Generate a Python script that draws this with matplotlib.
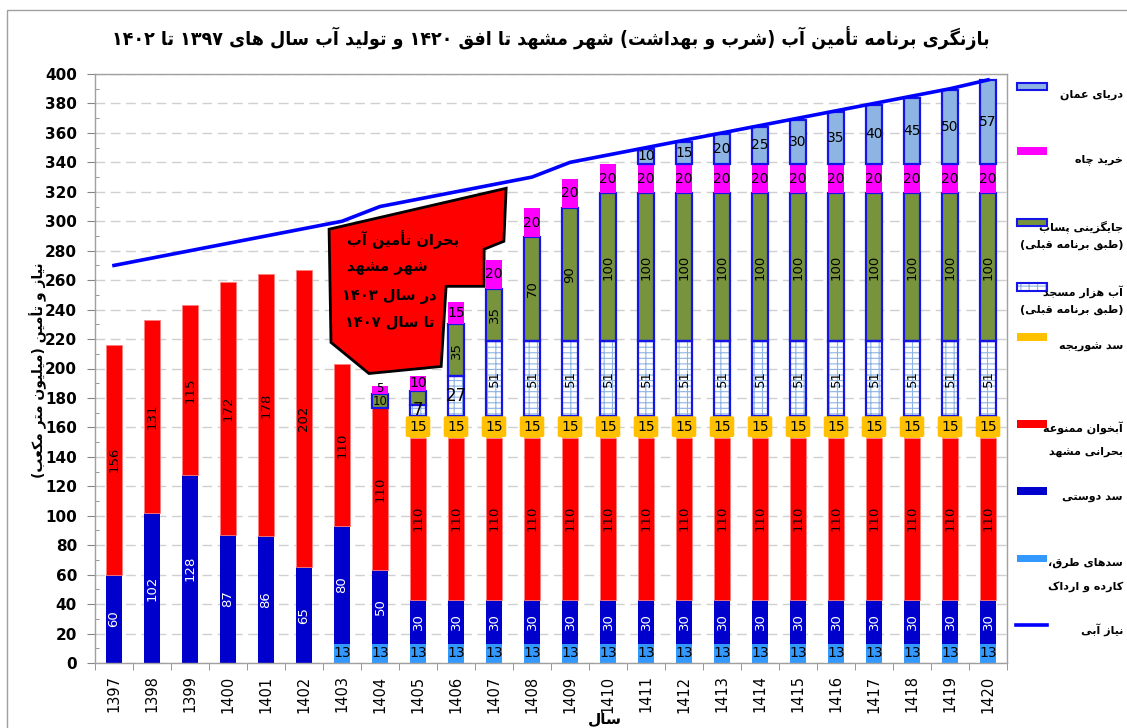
import matplotlib
matplotlib.use('Agg')
import matplotlib.pyplot as plt
from matplotlib.patches import Rectangle, Polygon
from matplotlib.lines import Line2D
import numpy as np

plt.rcParams['font.family'] = ['DejaVu Sans']
plt.rcParams['hatch.linewidth'] = 0.8

# ---------------- data ----------------
years = [str(y) for y in range(1397, 1421)]
torogh = [0] * 6 + [13] * 18
doosti = [60, 102, 128, 87, 86, 65, 80, 50] + [30] * 16
aabkhan = [156, 131, 115, 172, 178, 202] + [110] * 18
shoorijeh = [0] * 8 + [15] * 16
hezar = [0] * 8 + [7, 27] + [51] * 14
pasab = [0] * 7 + [10, 10, 35, 35, 70, 90] + [100] * 11
chah = [0] * 7 + [5, 10, 15, 20, 20, 20] + [20] * 11
oman = [0] * 14 + [10, 15, 20, 25, 30, 35, 40, 45, 50, 57]
demand = [270, 275, 280, 285, 290, 295, 300, 310, 315, 320, 325, 330,
          340, 345, 350, 355, 360, 365, 370, 375, 380, 385, 390, 396]

# annotation shape (data coords) and its text
crisis_shape = [(5.66, 294.6), (10.32, 322.4), (10.26, 286.4), (9.74, 281.0),
                (9.74, 255.8), (8.74, 255.8), (8.61, 201.4), (6.71, 196.6),
                (5.71, 217.7)]
crisis_lines = ['بحران تأمین آب', 'شهر مشهد', 'در سال ۱۴۰۳', 'تا سال ۱۴۰۷']

title_txt = 'بازنگری برنامه تأمین آب (شرب و بهداشت) شهر مشهد تا افق ۱۴۲۰ و تولید آب سال های ۱۳۹۷ تا ۱۴۰۲'
ylabel_txt = 'نیاز و تأمین (میلیون متر مکعب)'
xlabel_txt = 'سال'

# ---------------- simple Persian shaping ----------------
_F = {
    'ا': (0xFE8D, 0xFE8E, None, None), 'آ': (0xFE81, 0xFE82, None, None),
    'أ': (0xFE83, 0xFE84, None, None),
    'ب': (0xFE8F, 0xFE90, 0xFE91, 0xFE92), 'پ': (0xFB56, 0xFB57, 0xFB58, 0xFB59),
    'ت': (0xFE95, 0xFE96, 0xFE97, 0xFE98), 'ث': (0xFE99, 0xFE9A, 0xFE9B, 0xFE9C),
    'ج': (0xFE9D, 0xFE9E, 0xFE9F, 0xFEA0), 'چ': (0xFB7A, 0xFB7B, 0xFB7C, 0xFB7D),
    'ح': (0xFEA1, 0xFEA2, 0xFEA3, 0xFEA4), 'خ': (0xFEA5, 0xFEA6, 0xFEA7, 0xFEA8),
    'د': (0xFEA9, 0xFEAA, None, None), 'ذ': (0xFEAB, 0xFEAC, None, None),
    'ر': (0xFEAD, 0xFEAE, None, None), 'ز': (0xFEAF, 0xFEB0, None, None),
    'ژ': (0xFB8A, 0xFB8B, None, None),
    'س': (0xFEB1, 0xFEB2, 0xFEB3, 0xFEB4), 'ش': (0xFEB5, 0xFEB6, 0xFEB7, 0xFEB8),
    'ص': (0xFEB9, 0xFEBA, 0xFEBB, 0xFEBC), 'ض': (0xFEBD, 0xFEBE, 0xFEBF, 0xFEC0),
    'ط': (0xFEC1, 0xFEC2, 0xFEC3, 0xFEC4), 'ظ': (0xFEC5, 0xFEC6, 0xFEC7, 0xFEC8),
    'ع': (0xFEC9, 0xFECA, 0xFECB, 0xFECC), 'غ': (0xFECD, 0xFECE, 0xFECF, 0xFED0),
    'ف': (0xFED1, 0xFED2, 0xFED3, 0xFED4), 'ق': (0xFED5, 0xFED6, 0xFED7, 0xFED8),
    'ک': (0xFB8E, 0xFB8F, 0xFB90, 0xFB91), 'گ': (0xFB92, 0xFB93, 0xFB94, 0xFB95),
    'ل': (0xFEDD, 0xFEDE, 0xFEDF, 0xFEE0), 'م': (0xFEE1, 0xFEE2, 0xFEE3, 0xFEE4),
    'ن': (0xFEE5, 0xFEE6, 0xFEE7, 0xFEE8), 'ه': (0xFEE9, 0xFEEA, 0xFEEB, 0xFEEC),
    'و': (0xFEED, 0xFEEE, None, None), 'ی': (0xFBFC, 0xFBFD, 0xFBFE, 0xFBFF),
}
_DIG = set('0123456789۰۱۲۳۴۵۶۷۸۹')
_MIR = {'(': ')', ')': '('}


def fa(text):
    ch = list(text)
    n = len(ch)
    shaped = []
    for i, c in enumerate(ch):
        if c not in _F:
            shaped.append(c)
            continue
        f = _F[c]
        p = ch[i - 1] if i > 0 else None
        q = ch[i + 1] if i + 1 < n else None
        pj = p in _F and _F[p][2] is not None
        nj = q in _F and f[2] is not None
        if pj and nj:
            code = f[3]
        elif pj:
            code = f[1]
        elif nj:
            code = f[2]
        else:
            code = f[0]
        shaped.append(chr(code))
    runs = []
    for c in shaped:
        d = c in _DIG
        if runs and runs[-1][0] == d:
            runs[-1][1].append(c)
        else:
            runs.append([d, [c]])
    out = ''
    for d, cs in reversed(runs):
        if d:
            out += ''.join(cs)
        else:
            out += ''.join(_MIR.get(c, c) for c in reversed(cs))
    return out


# ---------------- figure ----------------
W, H = 1127, 728
fig = plt.figure(figsize=(W / 100, H / 100), dpi=100)


def fx(px):
    return px / W


def fy(py):
    return 1 - py / H


ax = fig.add_axes([fx(95), fy(663), fx(1007) - fx(95), fy(74) - fy(663)])
x = np.arange(len(years))
bw = 0.42

C_TOROGH = '#3399FF'
C_DOOSTI = '#0000CC'
C_RED = '#FF0000'
C_ORANGE = '#FFC000'
C_OLIVE = '#77933C'
C_MAG = '#FF00FF'
C_OMAN = '#8DB4E2'
C_EDGE = '#1515E8'
C_BRICK = '#8DB4E2'

series = [
    ('torogh', torogh, dict(color=C_TOROGH)),
    ('doosti', doosti, dict(color=C_DOOSTI)),
    ('aabkhan', aabkhan, dict(color=C_RED, edgecolor='#FF8080', linewidth=0.6)),
    ('shoorijeh', shoorijeh, dict(color=C_ORANGE)),
    ('hezar', hezar, dict(facecolor='white', edgecolor=C_BRICK, hatch='---||', linewidth=0)),
    ('pasab', pasab, dict(facecolor=C_OLIVE, edgecolor=C_EDGE, linewidth=1.6)),
    ('chah', chah, dict(color=C_MAG)),
    ('oman', oman, dict(facecolor=C_OMAN, edgecolor=C_EDGE, linewidth=1.6)),
]

bottom = np.zeros(len(x))
for name, vals, style in series:
    v = np.array(vals, dtype=float)
    m = v > 0
    ax.bar(x[m], v[m], bottom=bottom[m], width=bw, zorder=2, **style)
    if name == 'hezar':
        ax.bar(x[m], v[m], bottom=bottom[m], width=bw, fill=False,
               edgecolor=C_EDGE, linewidth=1.6, zorder=2.1)
    for i in np.where(m)[0]:
        val = int(v[i])
        yc = bottom[i] + v[i] / 2
        if name == 'pasab' and years[i] == '1405':
            continue
        rot = 90 if (name in ('doosti', 'aabkhan', 'pasab', 'hezar') and val >= 30) else 0
        col = 'white' if name == 'doosti' else 'black'
        fs = 9.5
        kw = {}
        if name == 'shoorijeh':
            fs = 10
            kw['bbox'] = dict(boxstyle='round,pad=0.25,rounding_size=0.15',
                              fc=C_ORANGE, ec='none')
        if name == 'hezar' and rot == 0:
            fs = 12
        if name in ('chah', 'oman', 'torogh'):
            fs = 10
        if years[i] == '1404' and name in ('pasab', 'chah'):
            fs = 8.5
            yc += 1.0 if name == 'chah' else -0.5
        ax.text(x[i], yc, str(val), rotation=rot, ha='center', va='center',
                color=col, fontsize=fs, zorder=4, **kw)
    bottom = bottom + v

# demand line
ax.plot(x, demand, color='#0000FF', lw=2.6, zorder=5)

# crisis annotation
ax.add_patch(Polygon(crisis_shape, closed=True, facecolor='#FF0000',
                     edgecolor='black', linewidth=2, zorder=4.5))
for t, xx, yy, fs in zip(crisis_lines, [7.6, 7.2, 7.25, 7.25],
                         [287.8, 268.7, 249.0, 232.0], [10.5, 10.5, 10.5, 10.5]):
    ax.text(xx, yy, fa(t), ha='center', va='center', fontsize=fs,
            fontweight='bold', color='black', zorder=6)

# axes styling
ax.set_xlim(-0.5, len(x) - 0.5)
ax.set_ylim(0, 400)
ax.set_yticks(np.arange(0, 401, 20))
ax.set_yticks(np.arange(0, 401, 10), minor=True)
ax.tick_params(axis='y', which='major', direction='out', length=6, pad=7,
               labelsize=11, color='#868686')
ax.tick_params(axis='y', which='minor', direction='in', length=3, color='#868686')
for lb in ax.get_yticklabels():
    lb.set_fontweight('bold')
ax.set_xticks(x)
ax.set_xticklabels(years, rotation=90, fontsize=10.5)
ax.set_xticks(np.arange(-0.5, len(x), 1), minor=True)
ax.tick_params(axis='x', which='major', length=0, pad=9)
ax.tick_params(axis='x', which='minor', direction='out', length=5, color='#868686')
ax.yaxis.grid(True, which='major', color='#D0D0D0', linestyle=(0, (7, 4)), lw=1)
ax.set_axisbelow(True)
for s in ax.spines.values():
    s.set_color('#A0A0A0')
    s.set_linewidth(1)

# outer border
fig.add_artist(Rectangle((fx(7), fy(760)), 1.1, fy(10) - fy(760),
                         transform=fig.transFigure, fill=False,
                         edgecolor='#A0A0A0', lw=1))

# titles
fig.text(fx(551), fy(38), fa(title_txt), ha='center', va='center',
         fontsize=14, fontweight='bold', fontstretch='condensed')
fig.text(fx(38), fy(370), fa(ylabel_txt), ha='center', va='center',
         rotation=90, fontsize=10, fontweight='bold')
fig.text(fx(605), fy(719), fa(xlabel_txt), ha='center', va='center',
         fontsize=11, fontweight='bold')

# legend (manual)
leg = [
    (['دریای عمان'], 86, [95], dict(facecolor=C_OMAN, edgecolor=C_EDGE, lw=1.5)),
    (['خرید چاه'], 151, [160], dict(facecolor=C_MAG, edgecolor='none')),
    (['جایگزینی پساب', '(طبق برنامه قبلی)'], 222, [227, 245],
     dict(facecolor=C_OLIVE, edgecolor=C_EDGE, lw=1.5)),
    (['آب هزار مسجد', '(طبق برنامه قبلی)'], 287, [292, 310],
     dict(facecolor='white', edgecolor=C_BRICK, hatch='---||', lw=0)),
    (['سد شوریجه'], 337, [347], dict(facecolor=C_ORANGE, edgecolor='none')),
    (['آبخوان ممنوعه', 'بحرانی مشهد'], 424, [428, 452], dict(facecolor=C_RED, edgecolor='none')),
    (['سد دوستی'], 491, [497], dict(facecolor=C_DOOSTI, edgecolor='none')),
    (['سدهای طرق،', 'کارده و ارداک'], 558, [563, 587], dict(facecolor=C_TOROGH, edgecolor='none')),
    (['نیاز آبی'], None, [630], None),
]
for lines, py, tys, st in leg:
    if st is None:
        fig.add_artist(Line2D([fx(1016), fx(1047)], [fy(625), fy(625)],
                              transform=fig.transFigure, color='#0000FF', lw=2.6))
    else:
        fig.add_artist(Rectangle((fx(1017), fy(py + 3.5)), fx(30), fy(py - 3.5) - fy(py + 3.5),
                                 transform=fig.transFigure, **st))
        if 'hatch' in st:
            fig.add_artist(Rectangle((fx(1017), fy(py + 3.5)), fx(30), fy(py - 3.5) - fy(py + 3.5),
                                     transform=fig.transFigure, fill=False,
                                     edgecolor=C_EDGE, lw=1.5))
    for t, ty in zip(lines, tys):
        fig.text(fx(1123), fy(ty), fa(t), ha='right', va='center',
                 fontsize=8, fontweight='bold')

fig.savefig('out.png', dpi=100)
